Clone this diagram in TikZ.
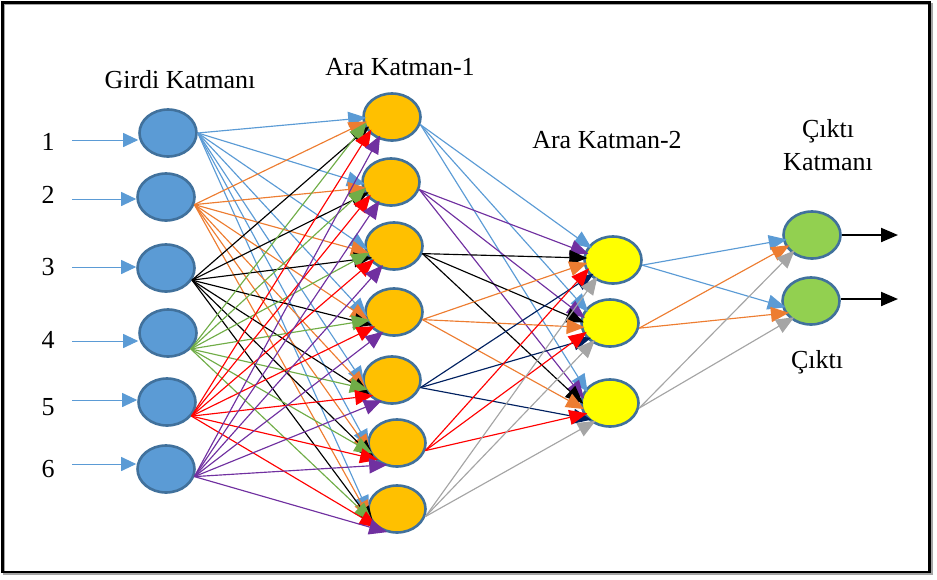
\documentclass[tikz,border=0pt]{standalone}
\usepackage{fontspec}
\setmainfont{Liberation Serif}
\usetikzlibrary{arrows.meta,shapes.geometric}
\definecolor{cblue}{HTML}{5B9BD5}
\definecolor{corange}{HTML}{ED7D31}
\definecolor{cgreen}{HTML}{70AD47}
\definecolor{cpurple}{HTML}{7030A0}
\definecolor{cnavy}{HTML}{002060}
\definecolor{cgray}{HTML}{A5A5A5}
\definecolor{nodeline}{HTML}{41719C}
\definecolor{inblue}{HTML}{5B9BD5}
\definecolor{hidorange}{HTML}{FFC000}
\definecolor{hidyellow}{HTML}{FFFF00}
\definecolor{outgreen}{HTML}{92D050}
\begin{document}
\begin{tikzpicture}[x=1pt,y=-1pt,
  neuron/.style={ellipse, draw=nodeline, line width=2.6pt, minimum width=57pt,
    minimum height=47pt, inner sep=0pt},
  link/.style={line width=1.15pt, shorten >=-4pt,
    -{Triangle[length=18pt,width=15pt]}},
  inarrow/.style={cblue, line width=1pt, -{Triangle[length=15pt,width=14pt]}},
  outarrow/.style={black, line width=2pt, -{Triangle[length=17pt,width=14pt]}},
  lbl/.style={font=\fontsize{26}{28}\selectfont, inner sep=0pt, anchor=base}]
\useasboundingbox (0,0) rectangle (937,579);

% frame with a light shadow
\draw[cgray, line width=2pt] (4,4) rectangle (931.5,574);
\draw[black, line width=2.5pt] (2.5,2.5) rectangle (929.5,572);

% titles
\node[lbl] (tin) at (180,88) {Girdi Katmanı};
\node[lbl] (th1) at (400,75) {Ara Katman-1};
\node[lbl] (th2) at (607,148) {Ara Katman-2};
\node[lbl] (tout1) at (828,137) {Çıktı};
\node[lbl] (tout2) at (828,170) {Katmanı};
\node[lbl] (tres) at (817,368) {Çıktı};

% input layer
\node[neuron, fill=inblue] (i1) at (168,133) {};
\node[neuron, fill=inblue] (i2) at (166,197) {};
\node[neuron, fill=inblue] (i3) at (166,268) {};
\node[neuron, fill=inblue] (i4) at (168,333) {};
\node[neuron, fill=inblue] (i5) at (167,402) {};
\node[neuron, fill=inblue] (i6) at (166,469) {};

% first hidden layer
\node[neuron, fill=hidorange] (h1) at (392,117) {};
\node[neuron, fill=hidorange] (h2) at (391,182) {};
\node[neuron, fill=hidorange] (h3) at (394,246) {};
\node[neuron, fill=hidorange] (h4) at (394,312) {};
\node[neuron, fill=hidorange] (h5) at (392,380) {};
\node[neuron, fill=hidorange] (h6) at (397,443) {};
\node[neuron, fill=hidorange] (h7) at (397,509) {};

% second hidden layer
\node[neuron, fill=hidyellow] (k1) at (613,260) {};
\node[neuron, fill=hidyellow] (k2) at (610,323) {};
\node[neuron, fill=hidyellow] (k3) at (610,403) {};

% output layer
\node[neuron, fill=outgreen] (o1) at (812,235) {};
\node[neuron, fill=outgreen] (o2) at (811,301) {};

% input numbers and input arrows
\foreach \n/\x/\y/\ay in {1/48/150/140, 2/48/203/199, 3/48/275/267, 4/48/348/341, 5/48/415/400, 6/48/477/464}{
  \node[lbl] (num\n) at (\x,\y) {\n};
  \coordinate (src\n) at (72,\ay);
  \draw[inarrow] (src\n) -- (src\n -| i\n.west);
}

% input -> first hidden (start angle, end angle per source)
\foreach \s/\c/\a/\e in {1/cblue/0/182, 2/corange/-15/192, 3/black/-25/205,
                         4/cgreen/-35/197, 5/red/-30/215, 6/cpurple/-15/238}
  \foreach \t in {1,...,7}
    \draw[link, color=\c] (i\s.\a) -- (h\t.\e);

% first hidden -> second hidden
\foreach \s/\c/\e in {1/cblue/150, 2/cpurple/165, 3/black/176, 4/corange/188,
                      5/cnavy/215, 6/red/203, 7/cgray/228}
  \foreach \t in {1,2,3}
    \draw[link, color=\c] (h\s.-15) -- (k\t.\e);

% second hidden -> output
\foreach \s/\c/\e in {1/cblue/190, 2/corange/205, 3/cgray/222}
  \foreach \t in {1,2}
    \draw[link, color=\c] (k\s.-10) -- (o\t.\e);

% outputs
\coordinate (e1) at (898,235);
\coordinate (e2) at (898,299);
\draw[outarrow] (o1.east) -- (e1);
\draw[outarrow] (o2.east |- e2) -- (e2);
\end{tikzpicture}
\end{document}
